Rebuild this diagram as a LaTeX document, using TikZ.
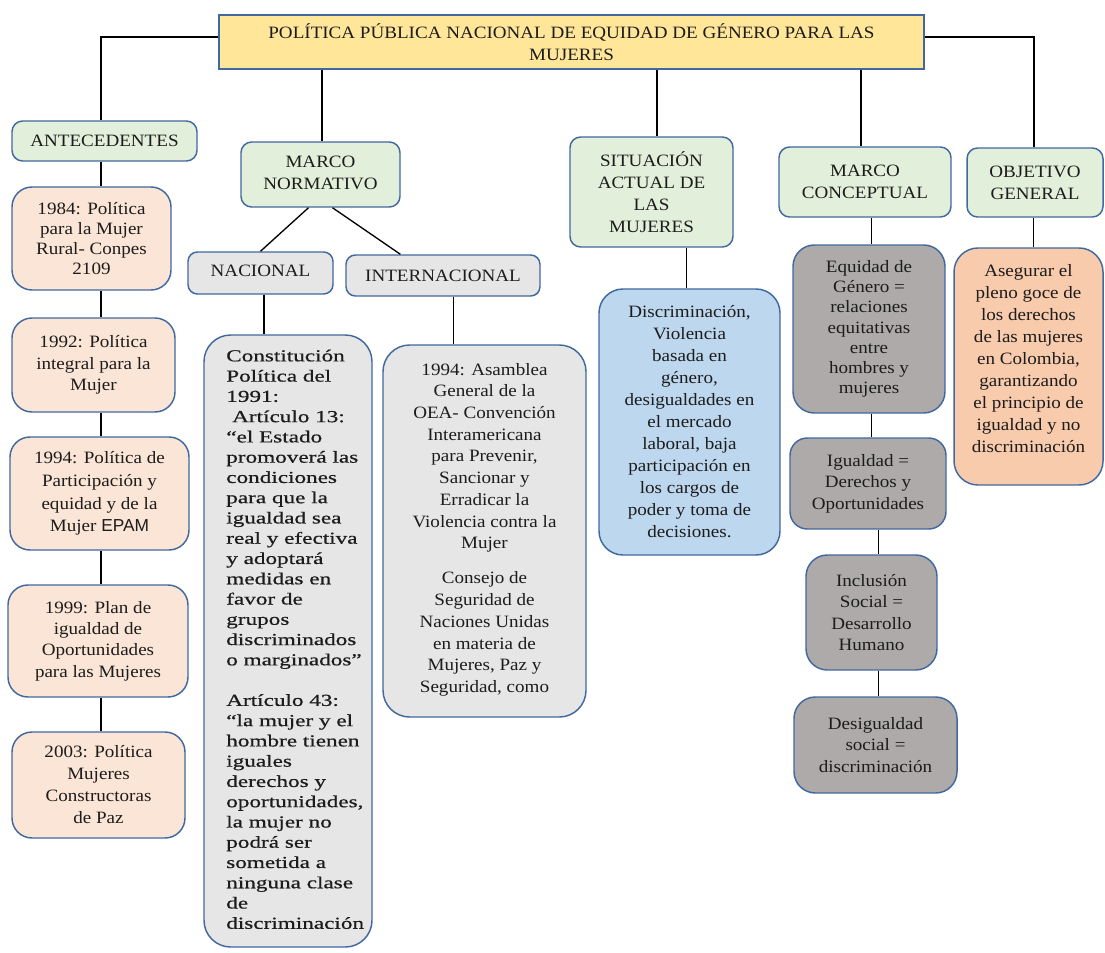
\documentclass[tikz,border=0pt]{standalone}
\usepackage{fontspec}
\setmainfont{Liberation Serif}[FakeStretch=1.1]
\newfontfamily\natfont{Liberation Serif}[FakeStretch=1.38,FakeBold=0.6]
\newfontfamily\sansf{Liberation Sans}
\usetikzlibrary{fit}
\definecolor{bord}{HTML}{41699F}
\definecolor{txt}{HTML}{1C1C1C}
\definecolor{ttl}{HTML}{FFE699}
\definecolor{hgreen}{HTML}{E2EFDA}
\definecolor{peachc}{HTML}{FBE5D6}
\definecolor{lgray}{HTML}{E7E6E6}
\definecolor{lblue}{HTML}{BDD7EE}
\definecolor{dgray}{HTML}{AEAAAA}
\definecolor{orangec}{HTML}{F8CBAD}
\begin{document}
\begin{tikzpicture}[x=0.75pt,y=-0.75pt,
  base/.style={draw=bord, line width=1.1pt, inner sep=0pt},
  titlebox/.style={base, fill=ttl},
  hdr/.style={base, fill=hgreen, rounded corners=8pt},
  ghdr/.style={base, fill=lgray, rounded corners=7pt},
  peachbox/.style={base, fill=peachc, rounded corners=15pt},
  graybig/.style={base, fill=lgray, rounded corners=20pt},
  bluebox/.style={base, fill=lblue, rounded corners=18pt},
  dgbox/.style={base, fill=dgray, rounded corners=16pt},
  orbox/.style={base, fill=orangec, rounded corners=18pt},
  tx/.style={align=center, text=txt, inner sep=0pt, font=\fontsize{13}{16}\selectfont},
  tx15/.style={tx, font=\fontsize{13}{15.2}\selectfont},
  tx165/.style={tx, font=\fontsize{13}{16.5}\selectfont},
  tx17/.style={tx, font=\fontsize{13}{17}\selectfont},
  conn/.style={draw=black, line width=1pt}]
\useasboundingbox (0,0) rectangle (1105,952);

% ---------- boxes ----------
\node[titlebox, fit={(219,15)(924,69)}] (title) {};
\node[hdr, fit={(12,121)(197,161)}] (ant) {};
\node[hdr, fit={(241,142)(400,207)}] (mn) {};
\node[hdr, fit={(570,137)(733,247)}] (sit) {};
\node[hdr, fit={(779,147)(951,217)}] (mc) {};
\node[hdr, fit={(967,148)(1103,217)}] (objh) {};

\node[peachbox, fit={(12,187)(171,290)}] (a1) {};
\node[peachbox, fit={(12,318)(175,412)}] (a2) {};
\node[peachbox, fit={(10,437)(189,550)}] (a3) {};
\node[peachbox, fit={(8,585)(188,697)}] (a4) {};
\node[peachbox, fit={(12,732)(185,838)}] (a5) {};

\node[ghdr, fit={(188,252)(333,294)}] (nac) {};
\node[ghdr, fit={(346,255)(540,296)}] (int) {};
\node[graybig, fit={(204,335)(372,947)}] (nat) {};
\node[graybig, fit={(383,345)(586,717)}] (itb) {};

\node[bluebox, fit={(599,289)(780,555)}] (blue) {};

\node[dgbox, fit={(793,245)(945,413)}] (eq) {};
\node[dgbox, rounded corners=13pt, fit={(790,438)(946,529)}] (ig) {};
\node[dgbox, fit={(806,555)(937,670)}] (inc) {};
\node[dgbox, fit={(794,697)(957,793)}] (des) {};

\node[orbox, fit={(954,248)(1103,485)}] (obj) {};

% ---------- texts ----------
\node[tx17] (titlet) at (title.center) {POLÍTICA PÚBLICA NACIONAL DE EQUIDAD DE GÉNERO PARA LAS\\MUJERES};
\node[tx] (antt) at (ant.center) {ANTECEDENTES};
\node[tx165] (mnt) at ([yshift=1pt]mn.center) {MARCO\\NORMATIVO};
\node[tx165] (sitt) at (sit.center) {SITUACIÓN\\ACTUAL DE\\LAS\\MUJERES};
\node[tx165] (mct) at (mc.center) {MARCO\\CONCEPTUAL};
\node[tx165] (objht) at (objh.center) {OBJETIVO\\GENERAL};

\node[tx15] (a1t) at (a1.center) {1984: Política\\para la Mujer\\Rural- Conpes\\2109};
\node[tx] (a2t) at (a2.center) {1992: Política\\integral para la\\Mujer};
\node[tx17] (a3t) at (a3.center) {1994: Política de\\Participación y\\equidad y de la\\Mujer {\sansf EPAM}};
\node[tx] (a4t) at (a4.center) {1999: Plan de\\igualdad de\\Oportunidades\\para las Mujeres};
\node[tx165] (a5t) at (a5.center) {2003: Política\\Mujeres\\Constructoras\\de Paz};

\node[tx] (nact) at ([yshift=1.5pt]nac.center) {NACIONAL};
\node[tx] (intt) at (int.center) {INTERNACIONAL};
\node[tx, anchor=west, font=\natfont\fontsize{12.6}{15.2}\selectfont] (natt) at ([xshift=-46.5pt]nat.center)
 {\begin{tabular}{@{}l@{}}Constitución\\Política del\\1991:\\\hspace{0.35em}Artículo 13:\\“el Estado\\promoverá las\\condiciones\\para que la\\igualdad sea\\real y efectiva\\y adoptará\\medidas en\\favor de\\grupos\\discriminados\\o marginados”\\[15.2pt]Artículo 43:\\“la mujer y el\\hombre tienen\\iguales\\derechos y\\oportunidades,\\la mujer no\\podrá ser\\sometida a\\ninguna clase\\de\\discriminación\end{tabular}};
\node[tx, font=\fontsize{13}{16.3}\selectfont] (itbt) at ([yshift=1pt]itb.center)
 {1994: Asamblea\\General de la\\OEA- Convención\\Interamericana\\para Prevenir,\\Sancionar y\\Erradicar la\\Violencia contra la\\Mujer\\[10pt]Consejo de\\Seguridad de\\Naciones Unidas\\en materia de\\Mujeres, Paz y\\Seguridad, como};

\node[tx165] (bluet) at (blue.center) {Discriminación,\\Violencia\\basada en\\género,\\desigualdades en\\el mercado\\laboral, baja\\participación en\\los cargos de\\poder y toma de\\decisiones.};

\node[tx15] (eqt) at (eq.center) {Equidad de\\Género =\\relaciones\\equitativas\\entre\\hombres y\\mujeres};
\node[tx] (igt) at (ig.center) {Igualdad =\\Derechos y\\Oportunidades};
\node[tx] (inct) at (inc.center) {Inclusión\\Social =\\Desarrollo\\Humano};
\node[tx] (dest) at (des.center) {Desigualdad\\social =\\discriminación};

\node[tx165] (objt) at ([yshift=6pt]obj.center) {Asegurar el\\pleno goce de\\los derechos\\de las mujeres\\en Colombia,\\garantizando\\el principio de\\igualdad y no\\discriminación};

% ---------- connectors ----------
\coordinate (tl) at (101,37);
\coordinate (tr) at (1034,37);
\draw[conn] (title.west |- tl) -- (tl) -- (tl |- ant.north);
\draw[conn] (title.east |- tr) -- (tr) -- (tr |- objh.north);
\draw[conn] ([xshift=1pt]mn.north |- title.south) -- ([xshift=1pt]mn.north);
\draw[conn] ([xshift=4pt]sit.north |- title.south) -- ([xshift=4pt]sit.north);
\draw[conn] ([xshift=-3pt]mc.north |- title.south) -- ([xshift=-3pt]mc.north);

\draw[conn] (tl |- ant.south) -- (tl |- a1.north);
\draw[conn] (tl |- a1.south) -- (tl |- a2.north);
\draw[conn] (tl |- a2.south) -- (tl |- a3.north);
\draw[conn] (tl |- a3.south) -- (tl |- a4.north);
\draw[conn] (tl |- a4.south) -- (tl |- a5.north);

\draw[conn] ([xshift=-9pt]mn.south) -- (nac.north);
\draw[conn] ([xshift=9pt]mn.south) -- ([xshift=-32pt]int.north);
\draw[conn] ([xshift=2.5pt]nac.south) -- ([xshift=2.5pt]nac.south |- nat.north);
\draw[conn] ([xshift=8pt]int.south) -- ([xshift=8pt]int.south |- itb.north);

\draw[conn] ([xshift=-2.5pt]blue.north |- sit.south) -- ([xshift=-2.5pt]blue.north);

\draw[conn] ([xshift=2pt]eq.north |- mc.south) -- ([xshift=2pt]eq.north);
\draw[conn] ([xshift=2.5pt]ig.north |- eq.south) -- ([xshift=2.5pt]ig.north);
\draw[conn] ([xshift=5pt]inc.north |- ig.south) -- ([xshift=5pt]inc.north);
\draw[conn] ([xshift=2pt]des.north |- inc.south) -- ([xshift=2pt]des.north);

\draw[conn] ([xshift=-1pt]objh.south) -- ([xshift=-1pt]objh.south |- obj.north);
\end{tikzpicture}
\end{document}
